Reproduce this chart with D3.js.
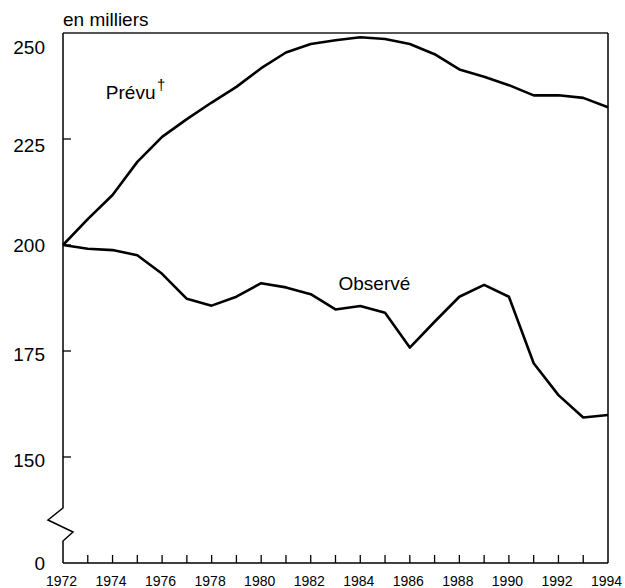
<!DOCTYPE html>
<html>
<head>
<meta charset="utf-8">
<script src="https://cdn.jsdelivr.net/npm/d3@7"></script>
<style>
  html, body { margin: 0; padding: 0; background: #fff; }
  svg text, svg tspan { font-family: "Liberation Sans", Arial, sans-serif; fill: #000; }
</style>
</head>
<body>
<svg id="chart" width="625" height="588"></svg>
<script>
const years = d3.range(1972, 1995);
const prevu = [200, 206.1, 211.8, 219.6, 225.5, 229.7, 233.6, 237.3, 241.7, 245.4, 247.4, 248.3,
               249.0, 248.6, 247.4, 245.0, 241.4, 239.7, 237.7, 235.3, 235.3, 234.7, 232.5];
const observe = [200, 199.1, 198.8, 197.6, 193.2, 187.3, 185.7, 187.8, 191.0, 190.0, 188.4, 184.8,
                 185.6, 184.0, 175.8, 181.9, 187.8, 190.6, 187.8, 172.1, 164.6, 159.3, 159.9];
const yTickValues = [250, 225, 200, 175, 150];
const xLabelYears = d3.range(1972, 1995, 2);
const seriesLabels = [{name: "Prévu", year: 1973.73, value: 234.5, sup: "†"},
                      {name: "Observé", year: 1983.12, value: 189.4, sup: null}];

const svg = d3.select("#chart");
const L = 63, R = 608, T = 33, B = 563;
const x = d3.scaleLinear().domain([1972, 1994]).range([L, R]);
const y = d3.scaleLinear().domain([125, 250]).range([B, T]);

// frame: top (grey), right
svg.append("line").attr("x1", L).attr("x2", R).attr("y1", T).attr("y2", T)
  .attr("stroke", "#555").attr("stroke-width", 1.8);
svg.append("line").attr("x1", R).attr("x2", R).attr("y1", T).attr("y2", B)
  .attr("stroke", "#000").attr("stroke-width", 1.5);
// bottom axis line
svg.append("line").attr("x1", L).attr("x2", R).attr("y1", B).attr("y2", B)
  .attr("stroke", "#000").attr("stroke-width", 1.5);
// left axis with break
svg.append("path")
  .attr("d", `M${L},${T} L${L},508 L${L-15},520 L${L+10},532 L${L},541 L${L},${B}`)
  .attr("fill", "none").attr("stroke", "#000").attr("stroke-width", 1.5)
  .attr("stroke-linejoin", "miter");

// x ticks (inward)
svg.append("g").selectAll("line").data(years.slice(1, -1)).join("line")
  .attr("x1", d => x(d)).attr("x2", d => x(d))
  .attr("y1", B).attr("y2", B - 8)
  .attr("stroke", "#000").attr("stroke-width", 1.3);
// x labels
svg.append("g").selectAll("text").data(xLabelYears).join("text")
  .attr("x", d => x(d) - 1.5).attr("y", 586)
  .attr("text-anchor", "middle").attr("font-size", 14)
  .text(d => d);

// y ticks (inward)
svg.append("g").selectAll("line").data(yTickValues.filter(v => v < 250)).join("line")
  .attr("x1", L).attr("x2", L + 8)
  .attr("y1", d => y(d)).attr("y2", d => y(d))
  .attr("stroke", "#000").attr("stroke-width", 1.3);
// y labels
const labelShift = {250: 14.5, 225: 6.5, 200: 0.5, 175: 3.5, 150: 3.5};
svg.append("g").selectAll("text").data(yTickValues).join("text")
  .attr("x", 45).attr("y", d => y(d) + labelShift[d] + 6.8)
  .attr("text-anchor", "end").attr("font-size", 19)
  .text(d => d);
svg.append("text").attr("x", 45).attr("y", B + 6.8)
  .attr("text-anchor", "end").attr("font-size", 19).text("0");

svg.append("text").attr("x", 63).attr("y", 26).attr("font-size", 19).text("en milliers");

// lines
const line = d3.line().x((d, i) => x(years[i])).y(d => y(d));
[prevu, observe].forEach(s => {
  svg.append("path").datum(s).attr("d", line)
    .attr("fill", "none").attr("stroke", "#000").attr("stroke-width", 2.6)
    .attr("stroke-linejoin", "round");
});

// series labels
seriesLabels.forEach(l => {
  const t = svg.append("text").attr("x", x(l.year)).attr("y", y(l.value))
    .attr("font-size", 19).text(l.name);
  if (l.sup) t.append("tspan").attr("font-size", 15).attr("dx", 1.5).attr("dy", -9)
    .style("fill", "#000").text(l.sup);
});
</script>
</body>
</html>
